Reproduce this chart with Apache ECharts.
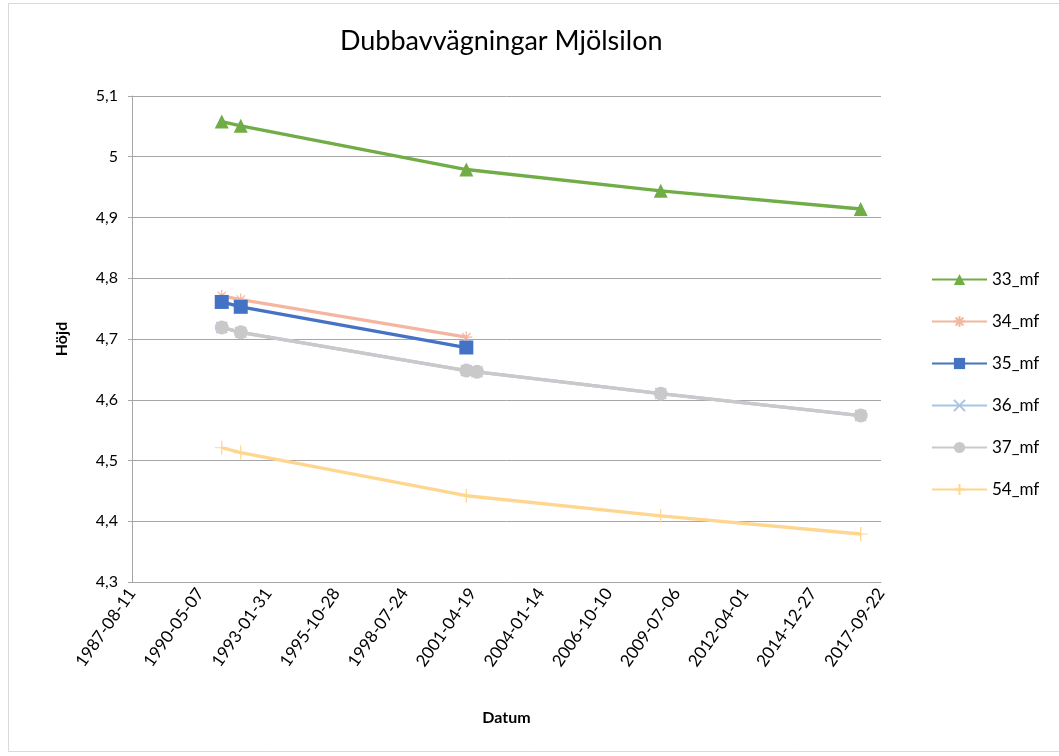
<!DOCTYPE html>
<html lang="sv">
<head>
  <meta charset="UTF-8">
  <title>Dubbavvägningar Mjölsilon</title>
  <script src="https://cdn.jsdelivr.net/npm/echarts@6/dist/echarts.min.js"></script>
  <style>
    html, body { margin: 0; padding: 0; background: #fff; }
    #main { width: 1059px; height: 756px; }
  </style>
</head>
<body>
<div id="main"></div>
<script type="text/javascript">
  var names = ['33_mf', '34_mf', '35_mf', '36_mf', '37_mf', '54_mf'];
  var colors = ['#70ad47', '#f4b6a0', '#4472c4', '#a9c3e8', '#c9c9c9', '#ffd690'];

  var dates33 = ['1991-03-21', '1991-12-25', '2001-01-19', '2008-11-13', '2016-11-28'];
  var vals33 = [5.058, 5.051, 4.979, 4.944, 4.914];

  var dates34 = ['1991-03-21', '1991-12-25', '2001-01-19'];
  var vals34 = [4.771, 4.765, 4.703];

  var dates35 = ['1991-03-21', '1991-12-25', '2001-01-19'];
  var vals35 = [4.761, 4.753, 4.686];

  var dates36 = ['1991-03-21', '1991-12-25', '2001-01-19', '2001-06-25', '2008-11-13', '2016-11-28'];
  var vals36 = [4.719, 4.711, 4.648, 4.646, 4.610, 4.574];

  var dates37 = ['1991-03-21', '1991-12-25', '2001-01-19', '2001-06-25', '2008-11-13', '2016-11-28'];
  var vals37 = [4.719, 4.711, 4.648, 4.646, 4.610, 4.574];

  var dates54 = ['1991-03-21', '1991-12-25', '2001-01-19', '2008-11-13', '2016-11-28'];
  var vals54 = [4.521, 4.513, 4.442, 4.409, 4.379];

  var symbols = [
    'triangle',
    'path://M0,5 L10,5 M5,0 L5,10 M1.5,1.5 L8.5,8.5 M8.5,1.5 L1.5,8.5',
    'rect',
    'path://M0,0 L10,10 M10,0 L0,10',
    'circle',
    'path://M5,0 L5,10 M0,5 L10,5'
  ];
  var symbolSizes = [14, 12, 14, 11, 14, 14];

  // excel style day numbers, so the axis can step by 1000 days
  var base = Date.UTC(1899, 11, 30);
  function toSerial(s) {
    var p = s.split('-');
    return Math.round((Date.UTC(+p[0], +p[1] - 1, +p[2]) - base) / 86400000);
  }
  function pad(n) { return n < 10 ? '0' + n : '' + n; }
  function fromSerial(v) {
    var d = new Date(base + v * 86400000);
    return d.getUTCFullYear() + '-' + pad(d.getUTCMonth() + 1) + '-' + pad(d.getUTCDate());
  }
  function pairs(dates, vals) {
    return dates.map(function (d, i) { return [toSerial(d), vals[i]]; });
  }

  var allData = [
    pairs(dates33, vals33), pairs(dates34, vals34), pairs(dates35, vals35),
    pairs(dates36, vals36), pairs(dates37, vals37), pairs(dates54, vals54)
  ];

  var font = 'Lato, "Liberation Sans", sans-serif';

  var series = names.map(function (n, i) {
    var stroked = symbols[i].indexOf('path://') === 0;
    return {
      name: n,
      type: 'line',
      data: allData[i],
      symbol: symbols[i],
      symbolSize: symbolSizes[i],
      showAllSymbol: true,
      lineStyle: { color: colors[i], width: 3.3 },
      itemStyle: stroked
        ? { color: colors[i], borderColor: colors[i], borderWidth: 1.2 }
        : { color: colors[i] },
      emphasis: { disabled: true }
    };
  });

  var myChart = echarts.init(document.getElementById('main'));
  var option = {
    animation: false,
    textStyle: { fontFamily: font },
    title: {
      text: 'Dubbavvägningar Mjölsilon',
      left: 335,
      top: 23,
      textStyle: { fontFamily: font, fontSize: 27, fontWeight: 'normal', color: '#000' }
    },
    graphic: [{
      type: 'rect',
      shape: { x: 8.5, y: 3.5, width: 1060, height: 748 },
      style: { fill: 'none', stroke: '#d9d9d9', lineWidth: 1 },
      silent: true
    }],
    legend: {
      orient: 'vertical',
      left: 926,
      top: 266,
      itemWidth: 55,
      itemHeight: 14,
      itemGap: 25,
      data: names,
      textStyle: { fontFamily: font, fontSize: 17, color: '#000' }
    },
    grid: { left: 132, right: 178, top: 96, bottom: 174 },
    xAxis: {
      type: 'value',
      min: 32000,
      max: 43000,
      interval: 1000,
      name: 'Datum',
      nameLocation: 'middle',
      nameGap: 128,
      nameTextStyle: { fontFamily: font, fontSize: 16, fontWeight: 'bold', color: '#000' },
      axisLine: { show: true, lineStyle: { color: '#a6a6a6' } },
      axisTick: { show: false },
      splitLine: { show: false },
      axisLabel: {
        rotate: 55,
        margin: 8,
        fontSize: 17,
        color: '#000',
        formatter: function (v) { return fromSerial(v); }
      }
    },
    yAxis: {
      type: 'value',
      min: 4.3,
      max: 5.1,
      interval: 0.1,
      name: 'Höjd',
      nameLocation: 'middle',
      nameGap: 62,
      nameRotate: 90,
      nameTextStyle: { fontFamily: font, fontSize: 16, fontWeight: 'bold', color: '#000' },
      axisLine: { show: true, lineStyle: { color: '#a6a6a6' } },
      axisTick: { show: true, inside: false, length: 4, lineStyle: { color: '#a6a6a6' } },
      splitLine: { show: true, lineStyle: { color: '#a6a6a6' } },
      axisLabel: {
        fontSize: 16,
        color: '#000',
        margin: 14,
        formatter: function (v) { return String(Math.round(v * 10) / 10).replace('.', ','); }
      }
    },
    series: series
  };
  myChart.setOption(option);
</script>
</body>
</html>
